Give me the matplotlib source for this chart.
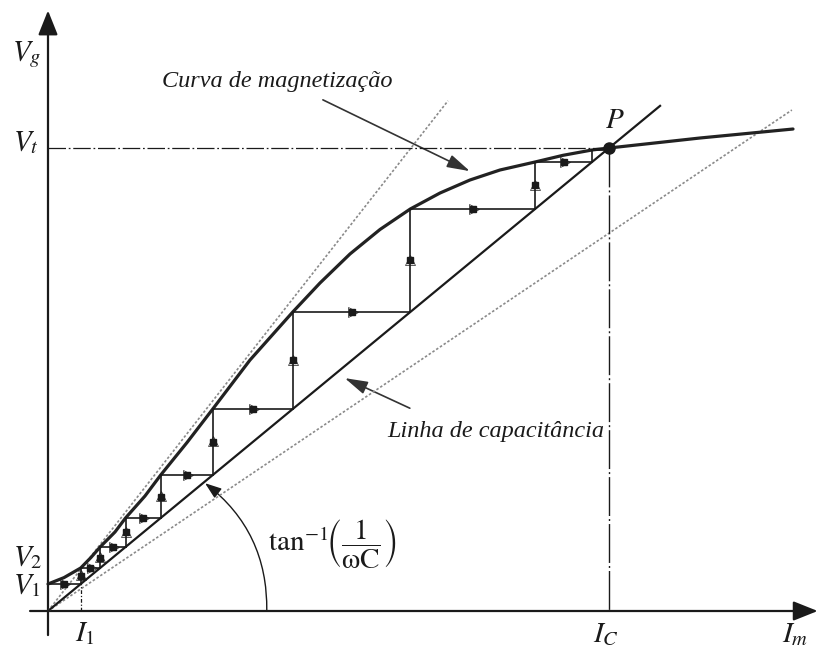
import numpy as np
import matplotlib
matplotlib.use("Agg")
import matplotlib.pyplot as plt
from matplotlib.patches import FancyArrowPatch

plt.rcParams['mathtext.fontset'] = 'stix'

# magnetization curve of the self-excited generator (per-unit style units)
curve_i = [0.0, 0.285, 0.583, 0.766, 0.929, 1.194, 1.382, 1.729, 2.009, 2.478,
           2.937, 3.601, 4.363, 4.848, 5.383, 5.918, 6.458, 6.988, 7.522, 8.057,
           8.683, 9.180, 9.698, 10.0, 10.731, 11.622, 12.513, 13.28]
curve_v = [0.583, 0.721, 0.929, 1.156, 1.382, 1.706, 2.009, 2.484, 2.937, 3.639,
           4.363, 5.421, 6.458, 7.084, 7.711, 8.240, 8.683, 9.028, 9.309, 9.525,
           9.698, 9.842, 9.957, 10.0, 10.097, 10.216, 10.320, 10.41]

# voltage reached at each step of the build-up (V1, V2, ...)
v_steps = [0.583, 0.929, 1.382, 2.009, 2.937, 4.363, 6.458, 8.683, 9.698, 9.957]

# operating point
i_c = 10.0
v_t = 10.0
x_c = v_t / i_c          # slope of the capacitance line, 1/(wC)
cap_line_end = 10.91

# dotted reference lines: air-gap line and a lower capacitance line
airgap_end = (7.13, 11.02)
low_line_end = (13.26, 10.82)

fig = plt.figure(figsize=(8.17, 6.48), dpi=100)
ax = fig.add_axes([0, 0, 1, 1])
ax.set_xlim(-48 / 56.1, 769 / 56.1)
ax.set_ylim(-37 / 46.3, 611 / 46.3)
ax.axis('off')

ink = '#1a1a1a'

# axes with arrow heads
for start, end in [((0, -0.52), (0, 12.97)), ((-0.32, 0), (13.72, 0))]:
    ax.add_patch(FancyArrowPatch(start, end, arrowstyle='-|>,head_length=0.75,head_width=0.3',
                                 mutation_scale=20, lw=1.6, color=ink, shrinkA=0, shrinkB=0))

# dotted lines
ax.plot([0, airgap_end[0]], [0, airgap_end[1]], color='#8a8a8a', lw=1.2, ls=(0, (1.5, 1.2)))
ax.plot([0, low_line_end[0]], [0, low_line_end[1]], color='#8a8a8a', lw=1.2, ls=(0, (1.5, 1.2)))

# capacitance line
ax.plot([0, cap_line_end], [0, cap_line_end / x_c], color=ink, lw=1.6)

# magnetization curve
ax.plot(curve_i, curve_v, color='#222222', lw=2.3, solid_joinstyle='round',
        solid_capstyle='round')

# dash-dot guides to the operating point and to I1
dashdot = (0, (14, 2.2, 1.4, 2.2))
ax.plot([0, i_c], [v_t, v_t], color=ink, lw=0.9, ls=dashdot)
ax.plot([i_c, i_c], [v_t, 0], color=ink, lw=1.0, ls=(0, (28, 2.2, 1.4, 2.2)))
ax.plot([v_steps[0] / x_c] * 2, [0, v_steps[0]], color=ink, lw=0.9, ls=(0, (3, 1.5, 1, 1.5)))

# staircase of the voltage build-up
i_prev = 0.0
for k, v in enumerate(v_steps):
    i_next = v / x_c
    ax.plot([i_prev, i_next], [v, v], color=ink, lw=1.2)
    if i_next - i_prev > 0.3:
        ax.plot((i_prev + i_next) / 2, v, marker='s', ms=4.2, color=ink)
        ax.plot((i_prev + i_next) / 2 + 0.02, v, marker='>', ms=7, mfc='none', mec=ink, mew=0.5)
    if k + 1 < len(v_steps):
        v_up = v_steps[k + 1]
        ax.plot([i_next, i_next], [v, v_up], color=ink, lw=1.2)
        if v_up - v > 0.3:
            ax.plot(i_next, (v + v_up) / 2, marker='s', ms=4.2, color=ink)
            ax.plot(i_next, (v + v_up) / 2 + 0.02, marker='^', ms=7, mfc='none', mec=ink, mew=0.5)
    i_prev = i_next

# operating point P
ax.plot(i_c, v_t, marker='o', ms=8, color=ink)

# angle of the capacitance line
ax.add_patch(FancyArrowPatch((3.90, 0), (2.80, 2.76), connectionstyle='arc3,rad=0.25',
                             arrowstyle='-|>,head_length=0.5,head_width=0.18', mutation_scale=20,
                             lw=1.0, color=ink, shrinkA=0, shrinkB=0))

# annotations
ax.add_patch(FancyArrowPatch((4.90, 11.04), (7.52, 9.50), arrowstyle='-|>,head_length=0.7,head_width=0.2',
                             mutation_scale=20, lw=1.2, color='#333333', shrinkA=0, shrinkB=0))
ax.add_patch(FancyArrowPatch((6.45, 4.38), (5.29, 5.03), arrowstyle='-|>,head_length=0.7,head_width=0.2',
                             mutation_scale=20, lw=1.2, color='#333333', shrinkA=0, shrinkB=0))

serif_it = dict(family='Liberation Serif', style='italic', fontsize=17.5, color=ink,
                ha='center', va='center')
ax.text(4.08, 11.43, 'Curva de magnetização', **serif_it)
ax.text(7.99, 3.87, 'Linha de capacitância', **serif_it)

ax.text(5.06, 1.43, r'$\mathrm{tan}^{-1}\!\left(\dfrac{1}{\mathrm{ωC}}\right)$', fontsize=21,
        color=ink, ha='center', va='center')

lab = dict(fontsize=21, color=ink, ha='left', va='baseline')
ax.text(-0.64, 11.90, r'$V_g$', **lab)
ax.text(-0.62, 9.96, r'$V_t$', **lab)
ax.text(-0.62, 0.99, r'$V_{\mathit{2}}$', **lab)
ax.text(-0.62, 0.39, r'$V_{\mathit{1}}$', **lab)
ax.text(0.48, -0.65, r'$I_{\mathit{1}}$', **lab)
ax.text(9.71, -0.67, r'$I_C$', **lab)
ax.text(13.08, -0.67, r'$I_m$', **lab)
ax.text(9.93, 10.43, r'$P$', **lab)

fig.savefig('out.png', dpi=100)
